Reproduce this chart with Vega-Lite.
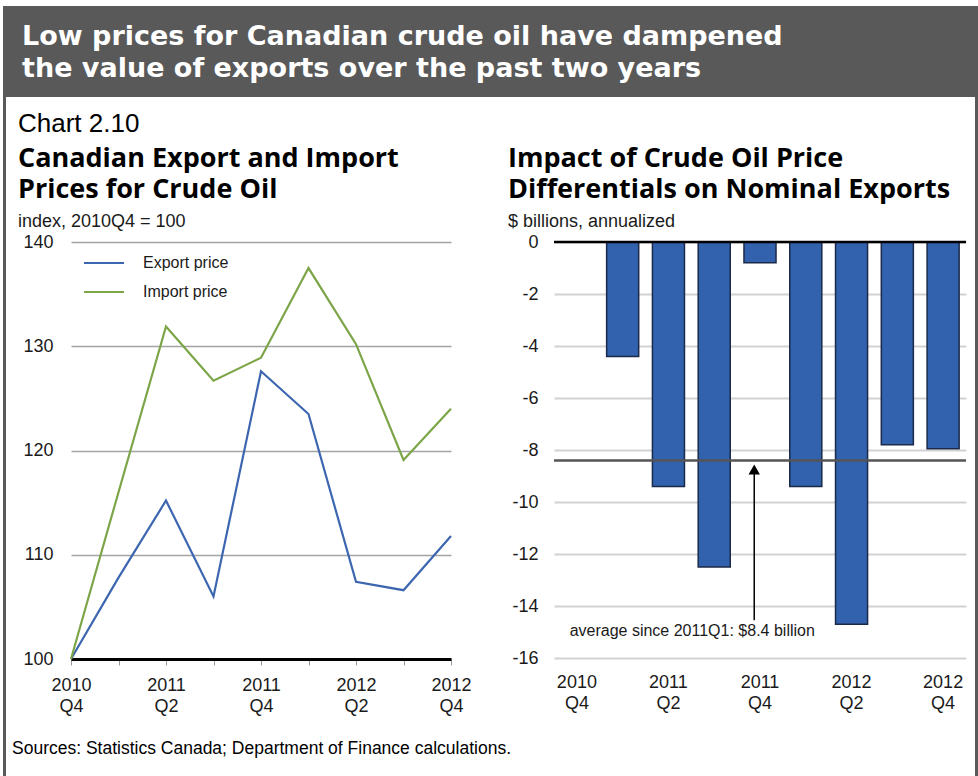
{
  "$schema": "https://vega.github.io/schema/vega-lite/v6.json",
  "background": "white",
  "padding": {"left": 3, "top": 6, "right": 0, "bottom": 0},
  "spacing": 0,
  "resolve": {"scale": {"color": "independent"}, "legend": {"color": "independent"}},
  "datasets": {
    "prices": [
      {"quarter": "2010Q4", "series": "Export price", "index": 100},
      {"quarter": "2011Q1", "series": "Export price", "index": 107.8},
      {"quarter": "2011Q2", "series": "Export price", "index": 115.2},
      {"quarter": "2011Q3", "series": "Export price", "index": 106.0},
      {"quarter": "2011Q4", "series": "Export price", "index": 127.6},
      {"quarter": "2012Q1", "series": "Export price", "index": 123.5},
      {"quarter": "2012Q2", "series": "Export price", "index": 107.4},
      {"quarter": "2012Q3", "series": "Export price", "index": 106.6},
      {"quarter": "2012Q4", "series": "Export price", "index": 111.8},
      {"quarter": "2010Q4", "series": "Import price", "index": 100},
      {"quarter": "2011Q1", "series": "Import price", "index": 116.0},
      {"quarter": "2011Q2", "series": "Import price", "index": 131.9},
      {"quarter": "2011Q3", "series": "Import price", "index": 126.7},
      {"quarter": "2011Q4", "series": "Import price", "index": 128.9},
      {"quarter": "2012Q1", "series": "Import price", "index": 137.5},
      {"quarter": "2012Q2", "series": "Import price", "index": 130.2},
      {"quarter": "2012Q3", "series": "Import price", "index": 119.1},
      {"quarter": "2012Q4", "series": "Import price", "index": 124.0}
    ],
    "impact": [
      {"quarter": "2011Q1", "impact": -4.4},
      {"quarter": "2011Q2", "impact": -9.4},
      {"quarter": "2011Q3", "impact": -12.5},
      {"quarter": "2011Q4", "impact": -0.8},
      {"quarter": "2012Q1", "impact": -9.4},
      {"quarter": "2012Q2", "impact": -14.7},
      {"quarter": "2012Q3", "impact": -7.8},
      {"quarter": "2012Q4", "impact": -7.95}
    ],
    "avg": [
      {"quarter": "2011Q4", "average": -8.4, "note": "average since 2011Q1: $8.4 billion"}
    ],
    "blank": [{}]
  },
  "hconcat": [
    {
      "width": 3, "height": 770,
      "view": {"fill": "#595959", "stroke": null},
      "data": {"name": "blank"},
      "mark": {"type": "point", "opacity": 0, "size": 0, "strokeWidth": 0},
      "encoding": {}
    },
    {
      "spacing": 14,
      "resolve": {"scale": {"color": "independent"}, "legend": {"color": "independent"}},
      "title": {
        "text": "Sources: Statistics Canada; Department of Finance calculations.",
        "orient": "bottom", "anchor": "start", "font": "Liberation Sans", "fontSize": 17.5,
        "fontWeight": "normal", "color": "#000", "offset": 25, "dx": 6
      },
      "vconcat": [
        {
          "width": 969, "height": 91,
          "view": {"fill": "#595959", "stroke": null},
          "data": {"values": [{"headline": "Low prices for Canadian crude oil have dampened\nthe value of exports over the past two years"}]},
          "mark": {"type": "text", "lineBreak": "\n", "align": "left", "baseline": "alphabetic", "font": "DejaVu Sans", "fontWeight": "bold", "fontSize": 27, "lineHeight": 32, "color": "white", "dx": 16, "dy": 39},
          "encoding": {
            "text": {"field": "headline", "type": "nominal"},
            "x": {"datum": 0, "type": "quantitative", "scale": {"domain": [0, 1]}, "axis": null},
            "y": {"datum": 1, "type": "quantitative", "scale": {"domain": [0, 1]}, "axis": null}
          }
        },
        {
          "spacing": 0,
          "resolve": {"scale": {"color": "independent"}, "legend": {"color": "independent"}},
          "hconcat": [
            {
              "width": 11, "height": 1,
              "data": {"name": "blank"},
              "mark": {"type": "point", "opacity": 0, "size": 0, "strokeWidth": 0},
              "encoding": {}
            },
            {
              "spacing": 35,
              "resolve": {"scale": {"color": "independent"}, "legend": {"color": "independent"}},
              "title": {"text": "Chart 2.10", "anchor": "start", "font": "Liberation Sans", "fontSize": 26, "fontWeight": "normal", "color": "#000", "offset": 8},
              "hconcat": [
                {
                  "width": 380, "height": 417,
                  "title": {
                    "text": ["Canadian Export and Import", "Prices for Crude Oil"],
                    "subtitle": "index, 2010Q4 = 100",
                    "anchor": "start", "font": "Open Sans", "fontSize": 27, "fontWeight": "bold", "lineHeight": 31, "color": "#000",
                    "subtitleFont": "Liberation Sans", "subtitleFontSize": 18, "subtitleColor": "#1a1a1a", "subtitlePadding": 9,
                    "offset": 1, "dx": -5
                  },
                  "data": {"name": "prices"},
                  "mark": {"type": "line", "strokeWidth": 2.2},
                  "encoding": {
                    "x": {
                      "field": "quarter", "type": "ordinal",
                      "scale": {"type": "point", "padding": 0, "domain": ["2010Q4", "2011Q1", "2011Q2", "2011Q3", "2011Q4", "2012Q1", "2012Q2", "2012Q3", "2012Q4"]},
                      "axis": {
                        "title": null, "labelAngle": 0, "labelOverlap": false, "labelLineHeight": 21, "labelPadding": 11,
                        "labelExpr": "indexof(['2010Q4','2011Q2','2011Q4','2012Q2','2012Q4'], datum.value) >= 0 ? [substring(datum.value, 0, 4), substring(datum.value, 4)] : ''",
                        "tickSize": 6, "tickColor": "#999999", "tickWidth": 1, "domainColor": "#000000", "domainWidth": 3, "grid": false
                      }
                    },
                    "y": {
                      "field": "index", "type": "quantitative",
                      "scale": {"domain": [100, 140], "nice": false, "zero": false},
                      "axis": {"title": null, "values": [100, 110, 120, 130, 140], "grid": true, "gridColor": "#a3a3a3", "gridWidth": 1.3, "domain": false, "ticks": false, "tickSize": 0, "labelPadding": 18}
                    },
                    "color": {
                      "field": "series", "type": "nominal",
                      "scale": {"domain": ["Export price", "Import price"], "range": ["#3d66b0", "#7ca548"]},
                      "legend": {
                        "title": null, "orient": "none", "legendX": 12, "legendY": 0, "symbolType": "stroke", "symbolSize": 1600, "symbolStrokeWidth": 2,
                        "labelFont": "Liberation Sans", "labelFontSize": 16, "labelColor": "#1a1a1a", "labelOffset": 18, "rowPadding": -13, "padding": 0
                      }
                    }
                  }
                },
                {
                  "width": 412, "height": 416,
                  "title": {
                    "text": ["Impact of Crude Oil Price", "Differentials on Nominal Exports"],
                    "subtitle": "$ billions, annualized",
                    "anchor": "start", "font": "Open Sans", "fontSize": 27, "fontWeight": "bold", "lineHeight": 31, "color": "#000",
                    "subtitleFont": "Liberation Sans", "subtitleFontSize": 18, "subtitleColor": "#1a1a1a", "subtitlePadding": 9,
                    "offset": 1, "dx": -4
                  },
                  "layer": [
                    {
                      "data": {"name": "impact"},
                      "mark": {"type": "bar", "fill": "#3262ad", "stroke": "#1b2a48", "strokeWidth": 1.5},
                      "encoding": {
                        "x": {
                          "field": "quarter", "type": "nominal",
                          "scale": {"domain": ["2010Q4", "2011Q1", "2011Q2", "2011Q3", "2011Q4", "2012Q1", "2012Q2", "2012Q3", "2012Q4"], "paddingInner": 0.3, "paddingOuter": 0.15},
                          "axis": {
                            "title": null, "labelAngle": 0, "labelOverlap": false, "labelLineHeight": 21, "labelPadding": 15,
                            "labelExpr": "indexof(['2010Q4','2011Q2','2011Q4','2012Q2','2012Q4'], datum.value) >= 0 ? [substring(datum.value, 0, 4), substring(datum.value, 4)] : ''",
                            "ticks": false, "tickSize": 0, "domain": false, "grid": false
                          }
                        },
                        "y": {
                          "field": "impact", "type": "quantitative",
                          "scale": {"domain": [-16, 0], "nice": false, "zero": false},
                          "axis": {"title": null, "values": [-16, -14, -12, -10, -8, -6, -4, -2, 0], "labelExpr": "'' + datum.value", "grid": true, "gridColor": "#d2d2d2", "gridWidth": 2, "domain": false, "ticks": false, "tickSize": 0, "labelPadding": 16}
                        }
                      }
                    },
                    {
                      "data": {"name": "blank"},
                      "mark": {"type": "rule", "color": "#000000", "strokeWidth": 2.5},
                      "encoding": {"y": {"datum": 0, "type": "quantitative"}}
                    },
                    {
                      "data": {"name": "avg"},
                      "mark": {"type": "rule", "color": "#555555", "strokeWidth": 2.5},
                      "encoding": {"y": {"field": "average", "type": "quantitative"}}
                    },
                    {
                      "data": {"name": "avg"},
                      "mark": {"type": "rule", "color": "#000000", "strokeWidth": 1.5},
                      "encoding": {
                        "x": {"field": "quarter", "type": "nominal", "bandPosition": 0.32},
                        "y": {"datum": -14.55, "type": "quantitative"},
                        "y2": {"datum": -8.8}
                      }
                    },
                    {
                      "data": {"name": "avg"},
                      "mark": {"type": "point", "shape": "triangle-up", "filled": true, "color": "#000000", "size": 130, "opacity": 1},
                      "encoding": {
                        "x": {"field": "quarter", "type": "nominal", "bandPosition": 0.32},
                        "y": {"datum": -8.75, "type": "quantitative"}
                      }
                    },
                    {
                      "data": {"name": "avg"},
                      "mark": {"type": "text", "font": "Liberation Sans", "fontSize": 16, "color": "#1a1a1a", "align": "center", "baseline": "middle", "dx": -62},
                      "encoding": {
                        "x": {"field": "quarter", "type": "nominal", "bandPosition": 0.32},
                        "y": {"datum": -14.95, "type": "quantitative"},
                        "text": {"field": "note", "type": "nominal"}
                      }
                    }
                  ]
                }
              ]
            }
          ]
        }
      ]
    },
    {
      "width": 3, "height": 770,
      "view": {"fill": "#595959", "stroke": null},
      "data": {"name": "blank"},
      "mark": {"type": "point", "opacity": 0, "size": 0, "strokeWidth": 0},
      "encoding": {}
    }
  ],
  "config": {
    "view": {"stroke": null},
    "font": "Liberation Sans",
    "axis": {"labelFont": "Liberation Sans", "labelFontSize": 18, "labelColor": "#1a1a1a"}
  }
}
